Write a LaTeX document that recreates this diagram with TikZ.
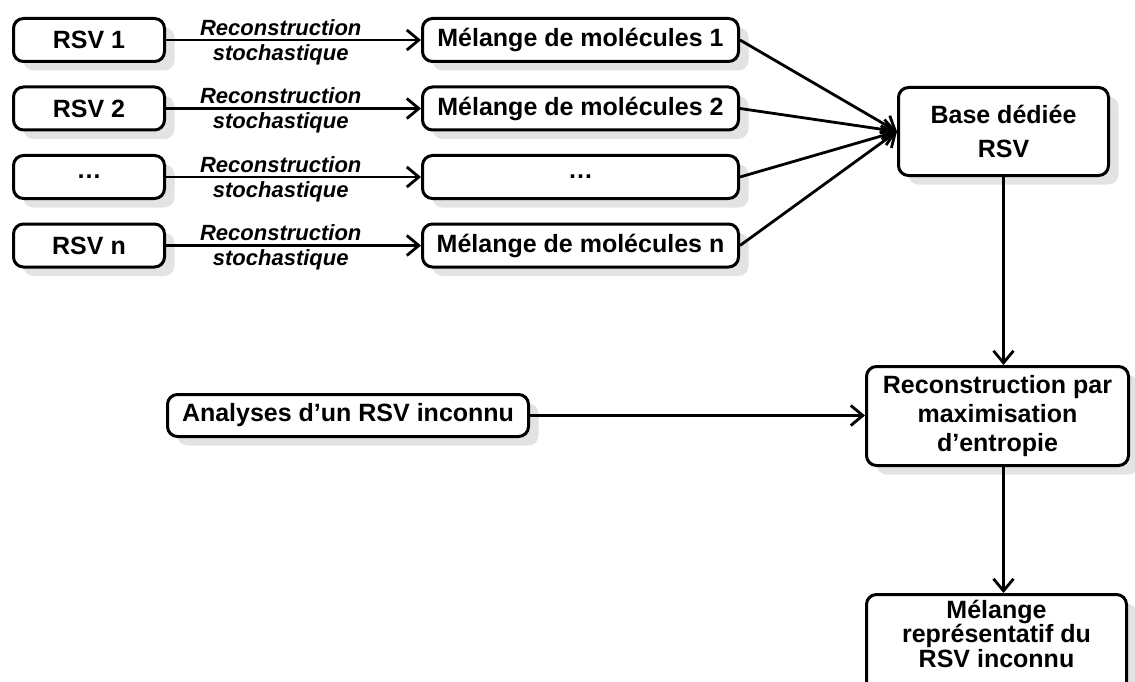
\documentclass[tikz,border=0pt]{standalone}
\usepackage{fontspec}
\setmainfont{Liberation Sans}
\usetikzlibrary{positioning,arrows.meta,shadows}

\begin{document}
\begin{tikzpicture}[x=1pt, y=-1pt,
		font=\bfseries\fontsize{25}{29}\selectfont,
		box/.style={draw, line width=3pt, rounded corners=10pt, fill=white,
				align=center, inner sep=2pt,
				drop shadow={shadow xshift=10pt, shadow yshift=-9pt,
						fill=gray!22, opacity=1, draw=none}},
		src/.style={box, minimum width=151pt, minimum height=43pt},
		mix/.style={box, minimum width=316pt, minimum height=43pt},
		lbl/.style={font=\bfseries\itshape\fontsize{22}{24}\selectfont,
				inner sep=3pt},
		arr/.style={-{Straight Barb[length=12pt, width=20pt]}, line width=2.8pt}
		]
		\clip (0,0) rectangle (1135,682);
		% sources and their mixtures
		\node[src] (rsv1) at (89,40) {RSV 1};
		\node[src] (rsv2) at (89,108.5) {RSV 2};
		\node[src] (rsv3) at (89,177) {…};
		\node[src] (rsvn) at (89,245.5) {RSV n};
		\node[mix] (mel1) at (580.5,40) {Mélange de molécules 1};
		\node[mix] (mel2) at (580.5,108.5) {Mélange de molécules 2};
		\node[mix] (mel3) at (580.5,177) {…};
		\node[mix] (meln) at (580.5,245.5) {Mélange de molécules n};
		\node[box, minimum width=210pt, minimum height=88pt] (base)
		at (1003.5,131.5) {Base dédiée\\[4.5pt]RSV};
		\node[box, minimum width=262pt, minimum height=99pt] (recon)
		at (997.5,416) {Reconstruction par\\maximisation\\d’entropie};
		\node[box, minimum width=361pt, minimum height=42pt] (ana)
		at (348,415.5) {Analyses d’un RSV inconnu};
		\node[box, anchor=north, minimum width=260pt, minimum height=100pt,
			text depth=22pt, font=\bfseries\fontsize{25}{24.5}\selectfont]
		(melrep) at (996.5,593) {Mélange\\représentatif du\\RSV inconnu};
		% connectors
		\draw[arr] (rsv1) -- node[lbl, pos=0.45, above]{Reconstruction}
		node[lbl, pos=0.45, below]{stochastique} (mel1);
		\draw[arr] (rsv2) -- node[lbl, pos=0.45, above]{Reconstruction}
		node[lbl, pos=0.45, below]{stochastique} (mel2);
		\draw[arr] (rsv3) -- node[lbl, pos=0.45, above]{Reconstruction}
		node[lbl, pos=0.45, below]{stochastique} (mel3);
		\draw[arr] (rsvn) -- node[lbl, pos=0.45, above]{Reconstruction}
		node[lbl, pos=0.45, below]{stochastique} (meln);
		\draw[arr] (mel1.east) -- (base.west);
		\draw[arr] (mel2.east) -- (base.west);
		\draw[arr] (mel3.east) -- (base.west);
		\draw[arr] (meln.east) -- (base.west);
		\draw[arr] (base.south) -- (base.south |- recon.north);
		\draw[arr] (ana.east) -- (ana.east -| recon.west);
		\draw[arr] (base.south |- recon.south) -- (base.south |- melrep.north);
	\end{tikzpicture}
\end{document}
